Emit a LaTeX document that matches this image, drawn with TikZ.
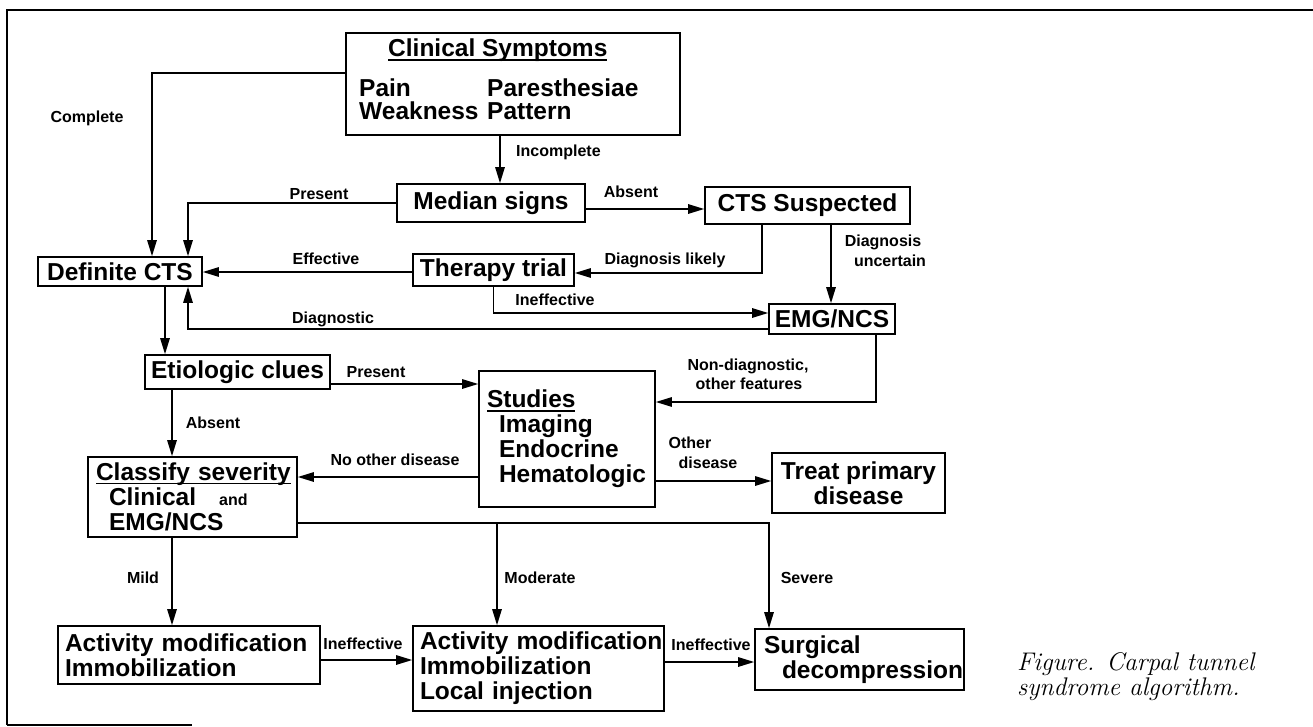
\documentclass[tikz,border=0pt]{standalone}
\usepackage{fontspec}
\setsansfont{Liberation Sans}
\usepackage{tikz}
\usetikzlibrary{arrows.meta, positioning}

\newcommand{\cellfont}{\sffamily\bfseries\fontsize{24.5}{25}\selectfont}
\newcommand{\lblfont}{\sffamily\bfseries\fontsize{16}{19}\selectfont}
\newsavebox{\ulbox}
\newcommand{\ulnd}[1]{\sbox{\ulbox}{#1}\rlap{\rule[-3.8pt]{\wd\ulbox}{1.5pt}}\usebox{\ulbox}}
\hbadness=10000
\hfuzz=20pt

\tikzset{
    box/.style={rectangle, draw, line width=1.7pt, inner sep=0pt, font=\cellfont, align=center},
    txt/.style={inner sep=0pt, font=\cellfont, anchor=base west},
    lbl/.style={inner sep=0pt, font=\lblfont, anchor=base},
    flow/.style={->, line width=1.3pt},
}

\begin{document}
\begin{tikzpicture}[x=1pt, y=-1pt, >={Triangle[length=16pt,width=9.5pt]}]
    \useasboundingbox (0,0) rectangle (1313,727);

    % frame
    \draw[line width=2.4pt] (7,725) -- (7,10) -- (1313,10);
    \draw[line width=1.2pt] (7,725) -- (192,725);

    % boxes
    \node[box, minimum width=334pt, minimum height=102pt] (sympt) at (513,84) {};
    \node[txt] (symtitle) at (388,57) {\ulnd{Clinical Symptoms}};
    \node[txt] (pain) at (359,97) {Pain};
    \node[txt] (weak) at (359,120) {Weakness};
    \node[txt] (pares) at (487,97) {Paresthesiae};
    \node[txt] (patt) at (487,120) {Pattern};

    \node[box, minimum width=188pt, minimum height=38pt] (median) at (491,203) {Median signs};
    \node[box, minimum width=205pt, minimum height=37pt] (suspect) at (807.5,205.5) {CTS Suspected};
    \node[box, minimum width=164pt, minimum height=29pt] (definite) at (120,271.5) {Definite CTS};
    \node[box, minimum width=161pt, minimum height=32pt] (therapy) at (493.5,270) {Therapy trial};
    \node[box, minimum width=126pt, minimum height=30pt] (emg) at (832,319) {EMG/NCS};
    \node[box, minimum width=185pt, minimum height=34pt] (etio) at (237.5,372) {Etiologic clues};
    \node[box, minimum width=176pt, minimum height=136pt, text width=160pt, align=left] (studies) at (567,439)
        {\ulnd{Studies}\\\hspace*{12pt}Imaging\\\hspace*{12pt}Endocrine\\\hspace*{12pt}\mbox{Hematologic}};
    \node[box, minimum width=173pt, minimum height=60pt] (treat) at (858.5,483) {Treat primary\\disease};
    \node[box, minimum width=209pt, minimum height=80pt, text width=193pt, align=left] (classify) at (192.5,497)
        {\ulnd{Classify severity}\\\hspace*{13pt}Clinical\hspace{23pt}{\lblfont and}\\\hspace*{13pt}EMG/NCS};
    \node[box, minimum width=262pt, minimum height=58pt, text width=248pt, align=left] (act1) at (189,655)
        {\mbox{Activity modification}\\Immobilization};
    \node[box, minimum width=251pt, minimum height=85pt, text width=237pt, align=left] (act2) at (538.5,668.5)
        {\mbox{Activity modification}\\Immobilization\\Local injection};
    \node[box, minimum width=209pt, minimum height=61pt, text width=191pt, align=left] (surg) at (859.5,659.5)
        {Surgical\\\hspace*{18pt}\mbox{decompression}};

    % connectors
    \coordinate (cplA) at ([yshift=11pt]sympt.west);
    \draw[flow] (cplA) -| ([xshift=32pt]definite.north);
    \draw[flow] ([xshift=-13pt]sympt.south) -- ([xshift=9pt]median.north);
    \draw[flow] (median.west) -| ([xshift=68pt]definite.north);
    \coordinate (absA) at ([yshift=-6pt]median.east);
    \draw[flow] (absA) -- (absA -| suspect.west);
    \draw[flow] ([xshift=-45.5pt]suspect.south) |- ([yshift=-3pt]therapy.east);
    \coordinate (uncA) at ([xshift=23.5pt]suspect.south);
    \draw[flow] (uncA) -- (uncA |- emg.north);
    \coordinate (effA) at ([yshift=-2pt]therapy.west);
    \draw[flow] (effA) -- (effA -| definite.east);
    \draw[flow] (therapy.south) |- ([yshift=6pt]emg.west);
    \draw[flow] ([yshift=-10pt]emg.west) -| ([xshift=68pt]definite.south);
    \coordinate (defA) at ([xshift=45pt]definite.south);
    \draw[flow] (defA) -- (defA |- etio.north);
    \coordinate (preA) at ([yshift=-12pt]etio.east);
    \draw[flow] (preA) -- (preA -| studies.west);
    \draw[flow] ([xshift=44pt]emg.south) |- ([yshift=37pt]studies.east);
    \coordinate (absB) at ([xshift=-65.5pt]etio.south);
    \draw[flow] (absB) -- (absB |- classify.north);
    \coordinate (nodA) at ([yshift=-38pt]studies.west);
    \draw[flow] (nodA) -- (nodA -| classify.east);
    \coordinate (othA) at ([yshift=-42pt]studies.east);
    \draw[flow] (othA) -- (othA -| treat.west);
    \coordinate (sevA) at ([yshift=-26pt]classify.east);
    \draw[flow] (sevA) -| ([xshift=-90.5pt]surg.north);
    \coordinate (modA) at ([xshift=-41.5pt]act2.north);
    \draw[flow] (modA |- sevA) -- (modA);
    \coordinate (mldA) at ([xshift=-20.5pt]classify.south);
    \draw[flow] (mldA) -- (mldA |- act1.north);
    \coordinate (inA) at ([yshift=-5pt]act1.east);
    \draw[flow] (inA) -- (inA -| act2.west);
    \coordinate (inB) at ([yshift=6.5pt]act2.east);
    \draw[flow] (inB) -- (inB -| surg.west);

    % labels
    \node[lbl] (lcpl) at (87,123) {Complete};
    \node[lbl, anchor=base west] (linc) at (516,157) {Incomplete};
    \node[lbl] (lpre) at (319,200) {Present};
    \node[lbl] (labs) at (631,198) {Absent};
    \node[lbl] (llik) at (665,265) {Diagnosis likely};
    \node[lbl] (lunc1) at (883,247) {Diagnosis};
    \node[lbl] (lunc2) at (890,266) {uncertain};
    \node[lbl] (leff) at (326,264) {Effective};
    \node[lbl] (lineA) at (555,305) {Ineffective};
    \node[lbl] (ldia) at (333,323) {Diagnostic};
    \node[lbl] (lpre2) at (376,377) {Present};
    \node[lbl] (lnon1) at (748,370) {Non-diagnostic,};
    \node[lbl] (lnon2) at (749,389) {other features};
    \node[lbl] (labs2) at (213,428) {Absent};
    \node[lbl] (lnod) at (395,465) {No other disease};
    \node[lbl] (loth1) at (690,448) {Other};
    \node[lbl] (loth2) at (708,468) {disease};
    \node[lbl] (lmild) at (143,583) {Mild};
    \node[lbl] (lmod) at (540,583) {Moderate};
    \node[lbl] (lsev) at (807,583) {Severe};
    \node[lbl] (lineB) at (363,649) {Ineffective};
    \node[lbl] (lineC) at (711,650) {Ineffective};

    % caption
    \node[anchor=north west, inner sep=0pt, align=left, font=\itshape\fontsize{25.5}{25}\selectfont] (capt) at (1017,652)
        {Figure. Carpal tunnel\\syndrome algorithm.};
\end{tikzpicture}
\end{document}
